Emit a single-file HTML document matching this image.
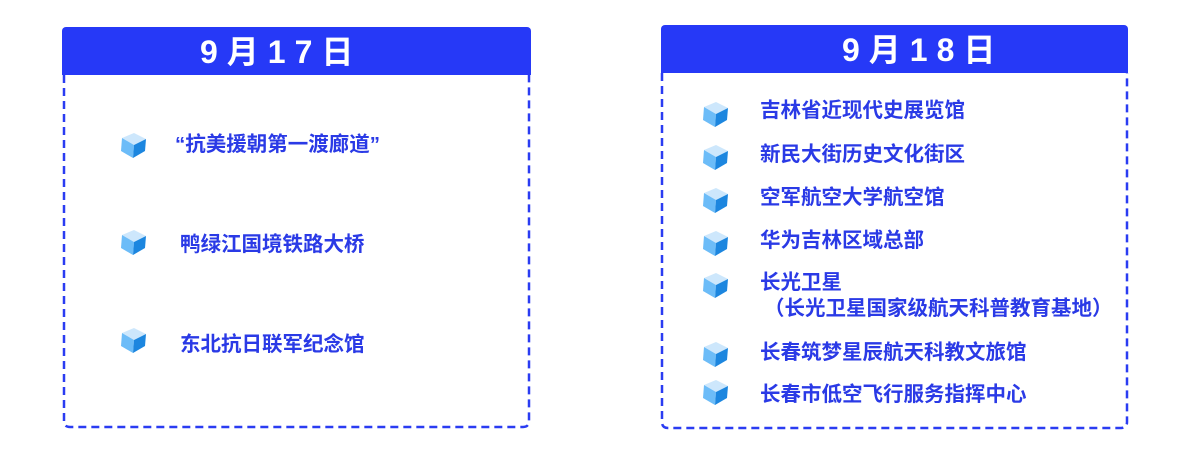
<!DOCTYPE html>
<html><head><meta charset="utf-8"><style>
body{margin:0;width:1200px;height:450px;background:#fff;position:relative;font-family:"Liberation Sans","Noto Sans CJK SC",sans-serif;overflow:hidden}
.hd{position:absolute;background:#2639f7;border-radius:4px 4px 0 0;height:48px}
.ht{position:absolute;color:#fff;font-weight:bold;font-size:32px;letter-spacing:9px;line-height:50px;white-space:nowrap}
.t{position:absolute;color:#2a3ae6;font-weight:bold;font-size:20.5px;line-height:22px;white-space:nowrap;transform:translateY(-50%)}
.i{position:absolute;width:26px;height:26px;transform:translate(-50%,-50%)}
</style></head><body>
<svg width="0" height="0" style="position:absolute"><defs>
<g id="c">
<polygon points="13,0 25,6 13,12 1,5" fill="#cde7fc"/>
<polygon points="1,5 13,12 12,25 0,18" fill="#6cbcf8"/>
<polygon points="13,12 25,6 24,18 12,25" fill="#1c86df"/>
</g></defs></svg>
<svg style="position:absolute;left:0;top:0" width="1200" height="450">
<path d="M64 75 V421 Q64 427 70 427 H523 Q529 427 529 421 V75" fill="none" stroke="#2a3cf2" stroke-width="2.5" stroke-dasharray="8 5"/>
<path d="M662 73 V422 Q662 428 668 428 H1121 Q1127 428 1127 422 V73" fill="none" stroke="#2a3cf2" stroke-width="2.5" stroke-dasharray="8 5"/>
</svg>
<div class="hd" style="left:62px;top:27px;width:469px"></div>
<div class="ht" style="left:200px;top:27px">9月17日</div>
<div class="hd" style="left:661px;top:25px;width:467px"></div>
<div class="ht" style="left:842px;top:25px">9月18日</div>

<svg class="i" style="left:134px;top:146px" viewBox="0 0 26 26"><use href="#c"/></svg>
<div class="t" style="left:175px;top:145px">“抗美援朝第一渡廊道”</div>
<svg class="i" style="left:134px;top:243px" viewBox="0 0 26 26"><use href="#c"/></svg>
<div class="t" style="left:180px;top:245px">鸭绿江国境铁路大桥</div>
<svg class="i" style="left:134px;top:341px" viewBox="0 0 26 26"><use href="#c"/></svg>
<div class="t" style="left:180px;top:345px">东北抗日联军纪念馆</div>

<svg class="i" style="left:716px;top:115px" viewBox="0 0 26 26"><use href="#c"/></svg>
<div class="t" style="left:760px;top:111px">吉林省近现代史展览馆</div>
<svg class="i" style="left:716px;top:158px" viewBox="0 0 26 26"><use href="#c"/></svg>
<div class="t" style="left:760px;top:155px">新民大街历史文化街区</div>
<svg class="i" style="left:716px;top:201px" viewBox="0 0 26 26"><use href="#c"/></svg>
<div class="t" style="left:760px;top:198px">空军航空大学航空馆</div>
<svg class="i" style="left:716px;top:244px" viewBox="0 0 26 26"><use href="#c"/></svg>
<div class="t" style="left:760px;top:241px">华为吉林区域总部</div>
<svg class="i" style="left:716px;top:286px" viewBox="0 0 26 26"><use href="#c"/></svg>
<div class="t" style="left:760px;top:283px">长光卫星</div>
<div class="t" style="left:764px;top:309px">（长光卫星国家级航天科普教育基地）</div>
<svg class="i" style="left:716px;top:355px" viewBox="0 0 26 26"><use href="#c"/></svg>
<div class="t" style="left:760px;top:353px">长春筑梦星辰航天科教文旅馆</div>
<svg class="i" style="left:716px;top:393px" viewBox="0 0 26 26"><use href="#c"/></svg>
<div class="t" style="left:760px;top:395px">长春市低空飞行服务指挥中心</div>
</body></html>
